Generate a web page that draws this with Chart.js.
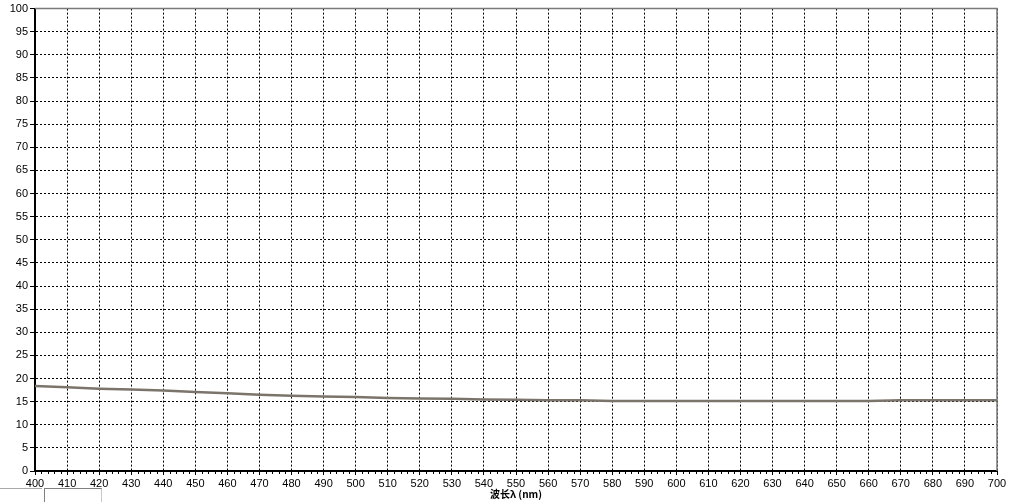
<!DOCTYPE html>
<html>
<head>
<meta charset="utf-8">
<script src="https://cdn.jsdelivr.net/npm/chart.js@4.4.1/dist/chart.umd.min.js"></script>
<style>
    html, body { margin: 0; padding: 0; background: #fff; overflow: hidden; }
    #wrap { position: relative; width: 1024px; height: 502px; }
    #panelA { position: absolute; left: 0; top: 488px; width: 42px; height: 14px; border-top: 1px solid #a8a8a8; }
    #panelB { position: absolute; left: 44px; top: 488px; width: 56px; height: 14px;
              border-top: 1px solid #808080; border-left: 1px solid #808080; border-right: 1px solid #c8c8c8; }
</style>
</head>
<body>
<div id="wrap">
    <canvas id="chartEspectro"></canvas>
    <div id="panelA"></div>
    <div id="panelB"></div>
</div>
<script>
// longitudes de onda (nm) y transmitancia (%)
const longitudes = [400, 410, 420, 430, 440, 450, 460, 470, 480, 490, 500,
                    510, 520, 530, 540, 550, 560, 570, 580, 590, 600,
                    610, 620, 630, 640, 650, 660, 670, 680, 690, 700];
const transmitancia = [18.4, 18.1, 17.8, 17.6, 17.4, 17.1, 16.8, 16.5, 16.3, 16.1, 16.0,
                       15.8, 15.7, 15.6, 15.45, 15.4, 15.3, 15.3, 15.15, 15.15, 15.15,
                       15.15, 15.15, 15.15, 15.15, 15.15, 15.15, 15.3, 15.3, 15.3, 15.3];

const ejeX = { min: 400, max: 700, paso: 10, menor: 2 };
const ejeY = { min: 0, max: 100, paso: 5 };
const tituloX = "波长λ (nm)";

const puntos = longitudes.map((l, i) => ({ x: l, y: transmitancia[i] }));

// marcas menores y borde gris superior/derecho
const marcoPlugin = {
    id: 'marco',
    afterDraw(chart) {
        const { ctx, chartArea, scales } = chart;
        ctx.save();
        ctx.strokeStyle = '#000';
        ctx.lineWidth = 1;
        ctx.beginPath();
        for (let v = ejeX.min; v <= ejeX.max; v += ejeX.menor) {
            if (v % ejeX.paso === 0) continue;
            const px = Math.round(scales.x.getPixelForValue(v)) + 0.5;
            ctx.moveTo(px, chartArea.bottom);
            ctx.lineTo(px, chartArea.bottom + 3);
        }
        ctx.stroke();

        ctx.strokeStyle = '#7a7a7a';
        ctx.lineWidth = 1.5;
        ctx.beginPath();
        ctx.moveTo(chartArea.left, chartArea.top);
        ctx.lineTo(chartArea.right, chartArea.top);
        ctx.lineTo(chartArea.right, chartArea.bottom);
        ctx.stroke();
        ctx.restore();
    }
};

const fuente = { family: "'Liberation Sans', Arial, sans-serif", size: 11 };

new Chart(document.getElementById('chartEspectro').getContext('2d'), {
    type: 'line',
    data: {
        datasets: [{
            data: puntos,
            borderColor: '#7b746b',
            borderWidth: 2.5,
            pointRadius: 0,
            tension: 0,
            fill: false
        }]
    },
    options: {
        responsive: true,
        maintainAspectRatio: false,
        animation: false,
        layout: { padding: { top: 7, right: 27, left: 0, bottom: 0 } },
        plugins: {
            legend: { display: false },
            tooltip: { enabled: false }
        },
        scales: {
            x: {
                type: 'linear',
                min: ejeX.min,
                max: ejeX.max,
                afterFit: s => { s.height = 31; },
                ticks: { stepSize: ejeX.paso, autoSkip: false, maxRotation: 0, color: '#000', font: fuente, padding: 2 },
                grid: { color: '#000', lineWidth: 1, drawTicks: true, tickLength: 4, tickColor: '#000', tickBorderDash: [] },
                border: { display: true, color: '#000', width: 2, dash: [2, 2] },
                title: {
                    display: true,
                    text: tituloX,
                    color: '#000',
                    font: { family: "'Noto Sans CJK SC', sans-serif", size: 10, weight: 'bold' },
                    padding: { top: 0, bottom: 2 }
                }
            },
            y: {
                min: ejeY.min,
                max: ejeY.max,
                afterFit: s => { s.width = 35; },
                ticks: { stepSize: ejeY.paso, autoSkip: false, color: '#000', font: fuente, padding: 2 },
                grid: { color: '#000', lineWidth: 1, drawTicks: true, tickLength: 5, tickColor: '#000', tickBorderDash: [] },
                border: { display: true, color: '#000', width: 2, dash: [2, 2] }
            }
        }
    },
    plugins: [marcoPlugin]
});
</script>
</body>
</html>
